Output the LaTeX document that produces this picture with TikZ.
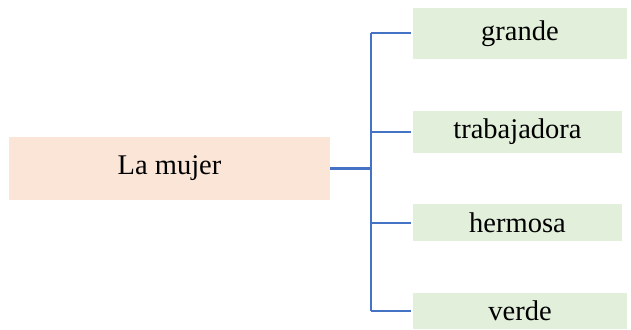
\documentclass[tikz,border=0pt]{standalone}
\usepackage{fontspec}
\setmainfont{Liberation Serif}
\usetikzlibrary{positioning}

\definecolor{durazno}{HTML}{FBE5D6}
\definecolor{verdeclaro}{HTML}{E2EFDA}
\definecolor{azul}{HTML}{4472C4}

\tikzset{
	raiz/.style={fill=durazno, minimum width=321pt, minimum height=63pt, inner sep=0pt, font=\fontsize{28.5}{34}\selectfont},
	hoja/.style={fill=verdeclaro, minimum width=209pt, inner sep=0pt, font=\fontsize{28.5}{34}\selectfont},
	rama/.style={azul, line width=2pt}
}

\begin{document}
\begin{tikzpicture}[x=1pt,y=-1pt]
			\useasboundingbox (0,0) rectangle (631,329);
			\node[raiz] (mujer) at (169.5,168.5) {La mujer};
			\node[hoja, minimum width=214pt, minimum height=51pt] (grande) at (520,33.5) {grande};
			\node[hoja, minimum height=42pt] (trabajadora) at (517.5,132) {trabajadora};
			\node[hoja, minimum height=37pt] (hermosa) at (517.5,222.5) {hermosa};
			\node[hoja, minimum width=214pt, minimum height=36pt] (verde) at (520,311) {verde};
			\coordinate (eje) at (371,168.5);
			\draw[rama, line width=3pt] (mujer.east) -- (eje);
			\draw[rama] (eje |- grande.west) -- (eje |- verde.west);
			\foreach \h in {grande,trabajadora,hermosa,verde}
				\draw[rama, shorten >=2pt] (eje |- \h.west) -- (\h.west);
		\end{tikzpicture}
\end{document}
